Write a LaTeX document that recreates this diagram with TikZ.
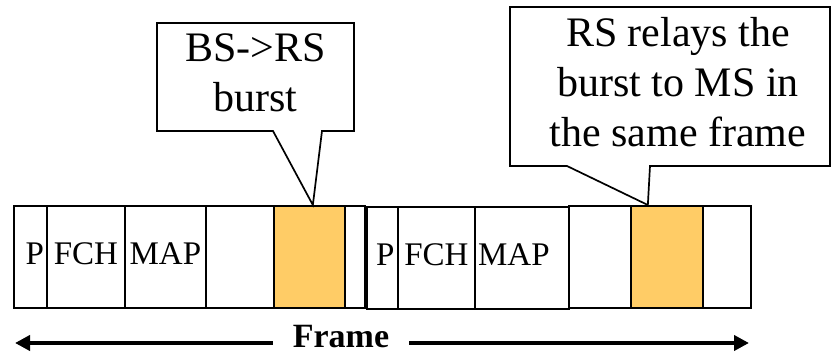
\documentclass[tikz,border=0pt]{standalone}
\usepackage{fontspec}
\setmainfont{Liberation Serif}
\usetikzlibrary{arrows.meta,calc}

\definecolor{burstfill}{RGB}{255,204,102}

\tikzset{
  cell/.style={draw, line width=1.7pt, inner sep=0pt, anchor=north west,
    minimum height=102pt, text height=22pt, text depth=6pt,
    font=\fontsize{33}{38}\selectfont},
  burstcell/.style={cell, fill=burstfill},
  calloutline/.style={draw, fill=white, line width=1.7pt, line join=miter},
  calltext/.style={align=center, inner sep=0pt, font=\fontsize{42}{50}\selectfont},
  spanarrow/.style={line width=3.8pt, -{Triangle[length=15pt,width=15pt]}},
}

\begin{document}
\begin{tikzpicture}[x=1pt, y=-1pt]
\useasboundingbox (0,0) rectangle (831,355);

% first frame
\node[cell, minimum width=33pt] (p1) at (13,205) {\hspace*{9pt}P};
\node[cell, minimum width=78pt] (f1) at (46,205) {FCH};
\node[cell, minimum width=81pt] (m1) at (124,205) {MAP};
\node[cell, minimum width=68pt] (e1) at (205,205) {};
\node[burstcell, minimum width=71pt] (b1) at (273,205) {};
\node[cell, minimum width=20pt] (g1) at (344,205) {};

% second frame
\node[cell, minimum width=31pt] (p2) at (366,206) {\hspace*{6pt}P};
\node[cell, minimum width=77pt] (f2) at (397,206) {FCH};
\node[cell, minimum width=94pt] (m2) at (474,206) {MAP\hspace*{16pt}};
\node[cell, minimum width=62pt] (e2) at (568,205) {};
\node[burstcell, minimum width=72pt] (b2) at (630,205) {};
\node[cell, minimum width=48pt] (g2) at (702,205) {};

% callout for the BS->RS burst
\coordinate (t1) at ($(b1.north)+(3.5,0)$);
\path[calloutline] (157,23) -- (354,23) -- (354,131) -- (322,131)
  -- (t1) -- (273,131) -- (157,131) -- cycle;
\node[calltext] (c1) at (255.5,72.8) {BS->RS\\burst};

% callout for the relayed burst
\coordinate (t2) at ($(b2.north)+(-19,0)$);
\path[calloutline] (510,7) -- (830,7) -- (830,166) -- (650,166)
  -- (t2) -- (567,166) -- (510,166) -- cycle;
\node[calltext] (c2) at (678,82.6) {RS relays the\\burst to MS in\\the same frame};

% frame length
\node[font=\bfseries\fontsize{34}{40}\selectfont, inner xsep=20pt, inner ysep=0pt]
  (fl) at (341,337) {Frame};
\coordinate (la) at (15,343);
\coordinate (ra) at (749,343);
\draw[spanarrow] (la -| fl.west) -- (la);
\draw[spanarrow] (ra -| fl.east) -- (ra);
\end{tikzpicture}
\end{document}
